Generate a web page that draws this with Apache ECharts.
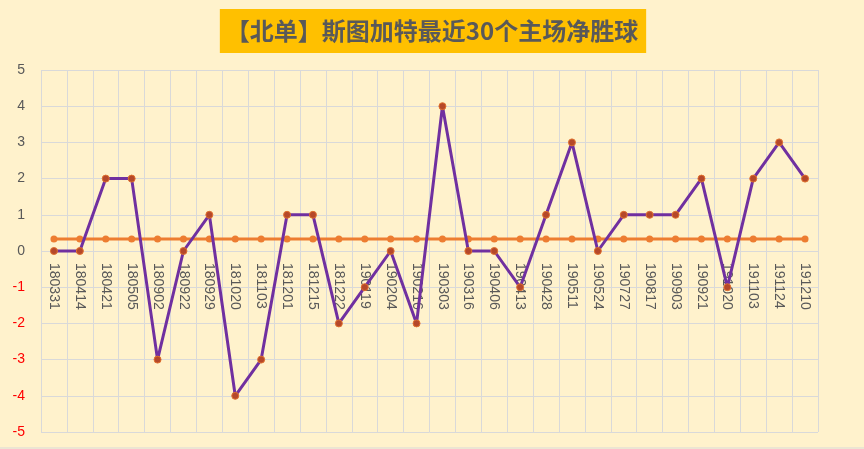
<!DOCTYPE html>
<html>
<head>
<meta charset="utf-8">
<script src="https://cdn.jsdelivr.net/npm/echarts@6/dist/echarts.min.js"></script>
<style>
html,body{margin:0;padding:0;background:#FFF2CC;}
#c{width:864px;height:449px;}
</style>
</head>
<body>
<div id="c"></div>
<script>
var titleText = '【北单】斯图加特最近30个主场净胜球';
var categories = ['180331','180414','180421','180505','180902','180922','180929','181020','181103','181201','181215','181222','190119','190204','190216','190303','190316','190406','190413','190428','190511','190524','190727','190817','190903','190921','191020','191103','191124','191210'];
var netGoals = [0,0,2,2,-3,0,1,-4,-3,1,1,-2,-1,0,-2,4,0,0,-1,1,3,0,1,1,1,2,-1,2,3,2];
var avgValue = 0.33;
var avgLine = categories.map(function(){ return avgValue; });

var gridTop = 70, gridBottom = 17, chartH = 449;
var plotH = chartH - gridTop - gridBottom;

var chart = echarts.init(document.getElementById('c'), null, {renderer:'canvas'});
chart.setOption({
  backgroundColor: '#FFF2CC',
  animation: false,
  title: {
    text: titleText,
    left: 'center',
    top: 9,
    backgroundColor: '#FFC000',
    padding: [8, 8, 8, 6],
    textStyle: {
      color: '#595959',
      fontSize: 24,
      fontWeight: 'bold',
      fontFamily: 'Noto Sans CJK SC',
      lineHeight: 28
    }
  },
  grid: { left: 41, right: 46, top: gridTop, bottom: gridBottom, containLabel: false, outerBoundsMode: 'none' },
  xAxis: [{
    type: 'category',
    data: categories,
    boundaryGap: true,
    axisLine: { show: false },
    axisTick: { show: false },
    splitLine: { show: true, interval: 0, lineStyle: { color: '#D9D9D9', width: 1 } },
    axisLabel: { show: false }
  }, {
    type: 'category',
    data: categories,
    position: 'bottom',
    offset: -plotH / 2,
    boundaryGap: true,
    axisLine: { show: false, onZero: false },
    axisTick: { show: false },
    splitLine: { show: false },
    axisLabel: {
      interval: 0,
      rotate: -90,
      margin: 12,
      color: '#595959',
      fontSize: 14,
      fontFamily: 'Liberation Sans'
    }
  }],
  yAxis: {
    type: 'value',
    min: -5,
    max: 5,
    interval: 1,
    axisLine: { show: false },
    axisTick: { show: false },
    splitLine: { lineStyle: { color: '#D9D9D9', width: 1 } },
    axisLabel: {
      margin: 16,
      color: '#595959',
      fontSize: 14,
      fontFamily: 'Liberation Sans',
      formatter: function (v) { return v < 0 ? '{neg|' + v + '}' : String(v); },
      rich: { neg: { color: '#FF0000', fontSize: 14, fontFamily: 'Liberation Sans' } }
    }
  },
  graphic: [{
    type: 'line',
    shape: { x1: 0, y1: 448, x2: 864, y2: 448 },
    style: { stroke: '#D9D9D9', lineWidth: 1 },
    silent: true
  }],
  series: [
    {
      type: 'line',
      data: avgLine,
      symbol: 'circle',
      symbolSize: 7,
      lineStyle: { color: '#ED7D31', width: 3 },
      itemStyle: { color: '#ED7D31' },
      z: 2
    },
    {
      type: 'line',
      data: netGoals,
      symbol: 'circle',
      symbolSize: 7,
      lineStyle: { color: '#7030A0', width: 3 },
      itemStyle: { color: '#B5482A', borderColor: '#E0702E', borderWidth: 1 },
      z: 3
    }
  ]
});
</script>
</body>
</html>
